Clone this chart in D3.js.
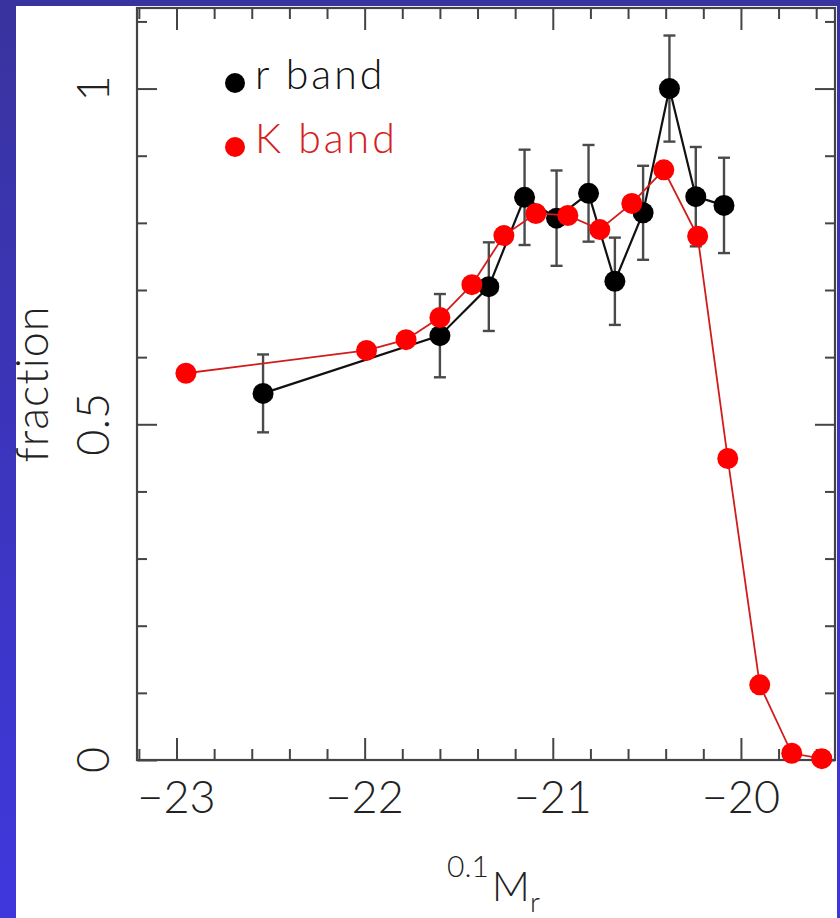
<!DOCTYPE html>
<html>
<head>
<meta charset="utf-8">
<script src="https://cdnjs.cloudflare.com/ajax/libs/d3/7.8.5/d3.min.js"></script>
<style>
	html, body { margin: 0; padding: 0; background: #3a34b0; }
	svg { display: block; }
	text { font-family: Lato, 'Liberation Sans', Arial, sans-serif; font-weight: 300; fill: #222; }
</style>
</head>
<body>
<div id="chart"></div>
<script>
// r band: magnitude bins, fraction, 1-sigma error
const rMag = [-22.54, -21.6, -21.34, -21.15, -20.98, -20.81, -20.67, -20.52, -20.38, -20.24, -20.09];
const rFrac = [0.546, 0.632, 0.705, 0.838, 0.807, 0.844, 0.713, 0.815, 1.0, 0.839, 0.826];
const rErr = [0.058, 0.062, 0.066, 0.071, 0.071, 0.072, 0.065, 0.07, 0.079, 0.074, 0.071];

// K band: magnitude bins, fraction
const kMag = [-22.95, -21.99, -21.78, -21.6, -21.43, -21.26, -21.09, -20.92, -20.75, -20.58, -20.41, -20.23, -20.07, -19.9, -19.73, -19.57];
const kFrac = [0.576, 0.61, 0.626, 0.659, 0.708, 0.781, 0.814, 0.811, 0.79, 0.829, 0.879, 0.78, 0.449, 0.112, 0.01, 0.002];

const xMajor = [-23, -22, -21, -20];
const yMajor = [0, 0.5, 1];
const yLabels = ['0', '0.5', '1'];
const legend = [
	{ name: 'r band', marker: '#000', text: '#111' },
	{ name: 'K band', marker: '#f00', text: '#d42020' }
];

const W = 840;
const H = 918;
const FRAME = { left: 137, right: 835, top: 8, bottom: 760 };

const x = d3.scaleLinear().domain([-23.21, -19.5]).range([FRAME.left, FRAME.right]);
const y = d3.scaleLinear().domain([0, 1.12]).range([FRAME.bottom, FRAME.top]);

const xMinor = d3.range(-23.2, -19.5, 0.2).map(v => +v.toFixed(1)).filter(v => !xMajor.includes(v));
const yMinor = d3.range(0, 1.12, 0.1).map(v => +v.toFixed(1)).filter(v => !yMajor.includes(v));

const $svg = d3.select('#chart').append('svg').attr('width', W).attr('height', H);

// slide background
const grad = $svg.append('defs').append('linearGradient')
	.attr('id', 'bg').attr('x1', 0).attr('y1', 0).attr('x2', 0).attr('y2', 1);
grad.append('stop').attr('offset', 0).attr('stop-color', '#39339f');
grad.append('stop').attr('offset', 1).attr('stop-color', '#3f37dc');
$svg.append('rect').attr('width', W).attr('height', H).attr('fill', 'url(#bg)');
$svg.append('rect').attr('x', 16).attr('y', 6).attr('width', 821).attr('height', H - 6).attr('fill', '#fff');

// ticks on all four sides, pointing inward
const tickStyle = sel => {
	sel.select('.domain').remove();
	sel.selectAll('line').attr('stroke', '#444').attr('stroke-width', 2);
	sel.selectAll('text').remove();
};
const addTicks = (axis, values, size, transform) => {
	$svg.append('g')
		.attr('transform', transform)
		.call(axis.tickValues(values).tickSize(-size).tickFormat(''))
		.call(tickStyle);
};
addTicks(d3.axisBottom(x), xMajor, 22, `translate(0,${FRAME.bottom})`);
addTicks(d3.axisBottom(x), xMinor, 11, `translate(0,${FRAME.bottom})`);
addTicks(d3.axisTop(x), xMajor, 22, `translate(0,${FRAME.top})`);
addTicks(d3.axisTop(x), xMinor, 11, `translate(0,${FRAME.top})`);
addTicks(d3.axisLeft(y), yMajor, 20, `translate(${FRAME.left},0)`);
addTicks(d3.axisLeft(y), yMinor, 10, `translate(${FRAME.left},0)`);
addTicks(d3.axisRight(y), yMajor, 20, `translate(${FRAME.right},0)`);
addTicks(d3.axisRight(y), yMinor, 10, `translate(${FRAME.right},0)`);

$svg.append('rect')
	.attr('x', FRAME.left).attr('y', FRAME.top)
	.attr('width', FRAME.right - FRAME.left).attr('height', FRAME.bottom - FRAME.top)
	.attr('fill', 'none').attr('stroke', '#444').attr('stroke-width', 2.2);

// tick labels
const fmt = d3.format('d');
$svg.append('g').selectAll('text')
	.data(xMajor)
	.join('text')
	.attr('x', d => x(d))
	.attr('y', 813)
	.attr('text-anchor', 'middle')
	.style('font-size', '45px')
	.text(d => fmt(d));

$svg.append('g').selectAll('text')
	.data(yMajor)
	.join('text')
	.attr('transform', d => `translate(109,${y(d)}) rotate(-90)`)
	.attr('text-anchor', 'middle')
	.style('font-size', '45px')
	.text((d, i) => yLabels[i]);

// axis titles
$svg.append('text')
	.attr('transform', 'translate(48,384) rotate(-90)')
	.attr('text-anchor', 'middle')
	.style('font-size', '45px')
	.style('letter-spacing', '1px')
	.text('fraction');

const $xt = $svg.append('text').attr('x', 447).attr('y', 877);
$xt.append('tspan').style('font-size', '30px').text('0.1');
$xt.append('tspan').attr('y', 901).attr('dx', 3).style('font-size', '42px').text('M');
$xt.append('tspan').attr('y', 912).style('font-size', '28px').text('r');

// data
const rData = rMag.map((m, i) => ({ m, f: rFrac[i], e: rErr[i] }));
const kData = kMag.map((m, i) => ({ m, f: kFrac[i] }));
const line = d3.line().x(d => x(d.m)).y(d => y(d.f));

const $r = $svg.append('g').attr('class', 'g-r');
const $err = $r.selectAll('g.err').data(rData).join('g').attr('class', 'err')
	.attr('stroke', '#4a4a4a').attr('stroke-width', 2.4);
$err.append('line')
	.attr('x1', d => x(d.m)).attr('x2', d => x(d.m))
	.attr('y1', d => y(d.f - d.e)).attr('y2', d => y(d.f + d.e));
$err.selectAll('line.cap').data(d => [d.f - d.e, d.f + d.e].map(v => ({ m: d.m, v })))
	.join('line').attr('class', 'cap')
	.attr('x1', d => x(d.m) - 6).attr('x2', d => x(d.m) + 6)
	.attr('y1', d => y(d.v)).attr('y2', d => y(d.v));
$r.append('path').datum(rData).attr('d', line)
	.attr('fill', 'none').attr('stroke', '#111').attr('stroke-width', 2.2);
$r.selectAll('circle').data(rData).join('circle')
	.attr('cx', d => x(d.m)).attr('cy', d => y(d.f)).attr('r', 10.5).attr('fill', '#000');

const $k = $svg.append('g').attr('class', 'g-k');
$k.append('path').datum(kData).attr('d', line)
	.attr('fill', 'none').attr('stroke', '#d21c1c').attr('stroke-width', 1.8);
$k.selectAll('circle').data(kData).join('circle')
	.attr('cx', d => x(d.m)).attr('cy', d => y(d.f)).attr('r', 10.5).attr('fill', '#f00');

// legend
const $leg = $svg.append('g').selectAll('g').data(legend).join('g')
	.attr('transform', (d, i) => `translate(235,${83 + i * 64})`);
$leg.append('circle').attr('r', 10).attr('fill', d => d.marker);
$leg.append('text').attr('x', 20).attr('y', 6)
	.style('font-size', '41px').style('letter-spacing', '3px')
	.style('fill', d => d.text).text(d => d.name);
</script>
</body>
</html>
